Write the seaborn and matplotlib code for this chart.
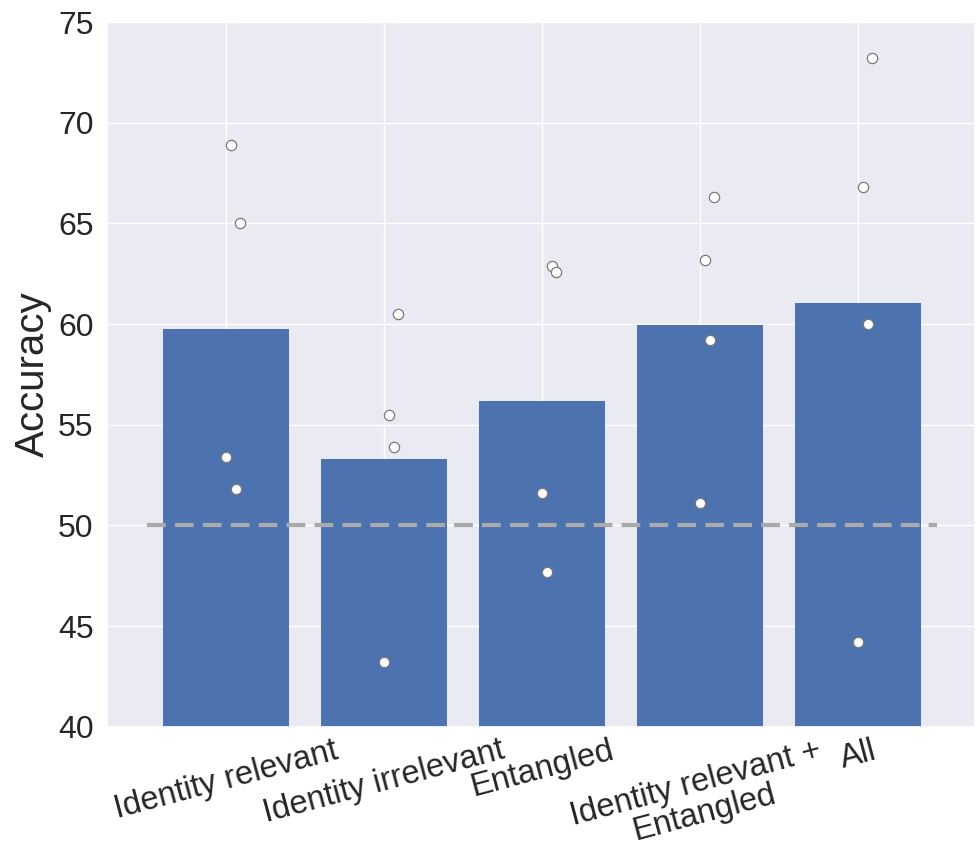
import matplotlib
matplotlib.use("Agg")
import matplotlib.pyplot as plt
import seaborn as sns
import pandas as pd
import numpy as np

# ---- data ----
categories = ["Identity relevant", "Identity irrelevant", "Entangled",
              "Identity relevant +\nEntangled", "All"]
run1 = [53.4, 43.2, 51.6, 51.1, 44.2]
run2 = [68.9, 55.5, 47.7, 63.2, 66.8]
run3 = [51.8, 53.9, 62.9, 59.2, 60.0]
run4 = [65.0, 60.5, 62.6, 66.3, 73.2]
runs = [run1, run2, run3, run4]
run_offsets = [0.0, 0.03, 0.06, 0.09]
chance = 50

rows = []
for r, (vals, off) in enumerate(zip(runs, run_offsets)):
    for i, (c, v) in enumerate(zip(categories, vals)):
        rows.append({"category": c, "acc": v, "pos": i + off, "run": r})
df = pd.DataFrame(rows)

sns.set_theme(style="darkgrid")
plt.rcParams["font.family"] = ["Liberation Sans", "DejaVu Sans"]

fig = plt.figure(figsize=(9.79, 8.47), dpi=100)
ax = fig.add_axes([0.109, 0.142, 0.887, 0.832])

sns.barplot(data=df, x="category", y="acc", order=categories,
            color="#4C72B0", saturation=1, errorbar=None, width=0.8,
            linewidth=0, ax=ax)

ax.plot([-0.5, 4.5], [chance, chance], color="#aaaaaa", lw=3,
        dashes=(4.5, 2.2), zorder=2.5)

sns.scatterplot(data=df, x="pos", y="acc", color="white", edgecolor="#7a7a7a",
                linewidth=0.9, s=55, zorder=3, legend=False, ax=ax)

ax.set_xlim(-0.755, 4.74)
ax.set_ylim(40, 75)
ax.set_xticks(range(len(categories)))
ax.set_xticklabels(categories, rotation=15, ha="center", fontsize=23.5,
                   linespacing=1.0)
ax.tick_params(axis="x", pad=0)
ax.xaxis.grid(True, color="white", linewidth=1)
ax.yaxis.grid(True, color="white", linewidth=1)
ax.set_axisbelow(True)
ax.tick_params(axis="y", labelsize=23)
ax.set_xlabel("")
ax.set_ylabel("Accuracy", fontsize=29)

fig.savefig("out.png", dpi=100)
